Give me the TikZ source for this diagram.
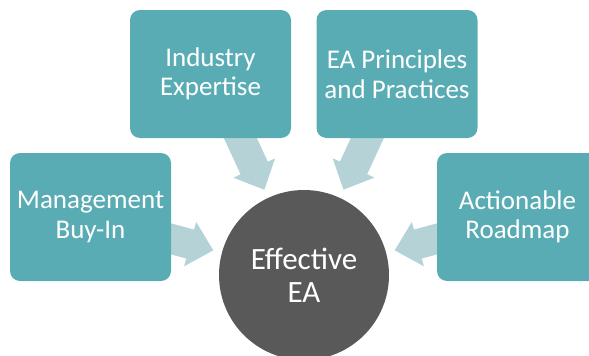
\documentclass[tikz,border=0pt]{standalone}
\usepackage{fontspec}
\setmainfont{Carlito}
\usetikzlibrary{calc}
\definecolor{boxc}{HTML}{5AACB4}
\definecolor{arrc}{HTML}{B5D3D7}
\definecolor{circc}{HTML}{595959}
\newcommand\blkarrow[2]{%
  \coordinate (tl) at ($(#1)!160pt!(#2)$);
  \coordinate (tp) at ($(#1)!94pt!(#2)$);
  \coordinate (nk) at ($(tp)!24pt!(tl)$);
  \fill[blockarrow] ($(tl)!15pt!90:(tp)$) -- ($(nk)!15pt!90:(tp)$) -- ($(nk)!23pt!90:(tp)$) -- (tp)
    -- ($(nk)!23pt!-90:(tp)$) -- ($(nk)!15pt!-90:(tp)$) -- ($(tl)!15pt!-90:(tp)$) -- cycle;
}
\begin{document}
\begin{tikzpicture}[x=1pt,y=-1pt,
  box/.style={fill=boxc, rounded corners=10pt, minimum width=161pt, minimum height=128pt,
    inner sep=0pt, align=center, text=white, font=\fontsize{27}{29.5}\selectfont},
  hub/.style={circle, fill=circc, minimum size=170pt, inner sep=0pt, align=center,
    text=white, font=\fontsize{31}{33}\selectfont},
  blockarrow/.style={fill=arrc}]
\useasboundingbox (0,0) rectangle (589,356);
\clip (0,0) rectangle (589,356);
% invisible anchors for arrow geometry
\coordinate (c) at (304,275);
\coordinate (cm) at (90.5,217);
\coordinate (ci) at (210.5,74);
\coordinate (ce) at (397,74);
\coordinate (ca) at (517.5,217);
\blkarrow{c}{cm}
\blkarrow{c}{ci}
\blkarrow{c}{ce}
\blkarrow{c}{ca}
\node[box] (mgmt) at (cm) {Management\\Buy-In};
\node[box] (ind) at (ci) {Industry\\Expertise};
\node[box] (eap) at (ce) {EA Principles\\and Practices};
\node[box] (act) at (ca) {Actionable\\Roadmap};
\node[hub] (hub) at (c) {Effective\\EA};
\end{tikzpicture}
\end{document}
